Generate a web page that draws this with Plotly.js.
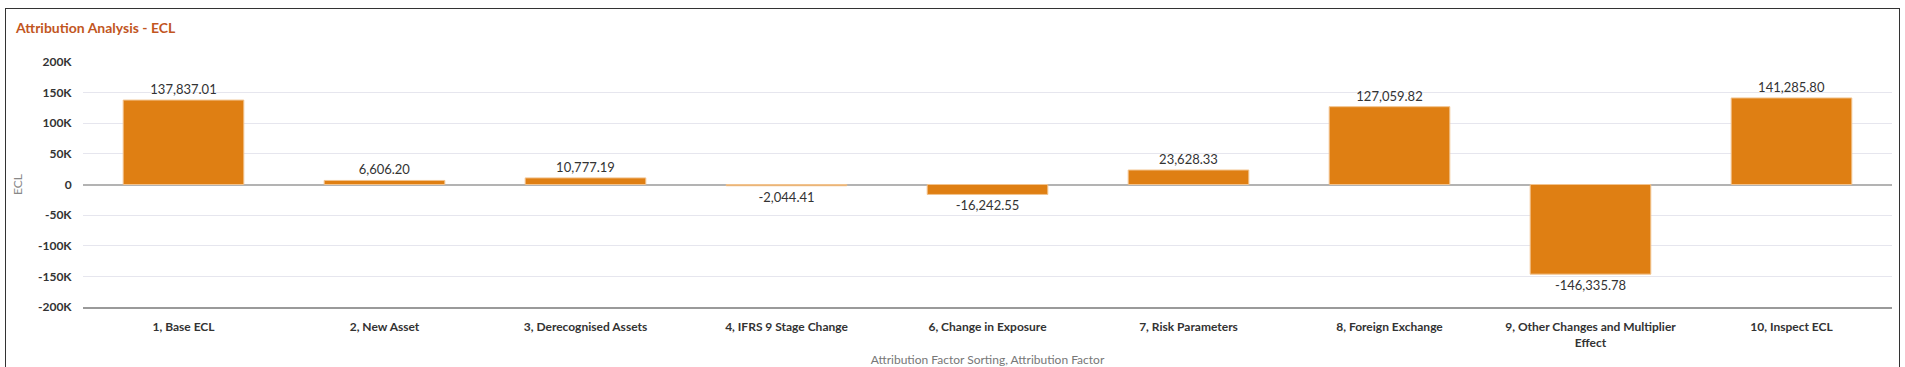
<!DOCTYPE html>
<html>
<head>
<meta charset="utf-8">
<script src="https://cdn.plot.ly/plotly-3.0.1.min.js"></script>
<style>
  html, body { margin: 0; padding: 0; background: #fff; overflow: hidden; }
  #chart { width: 1905px; height: 367px; }
  #frame { position: absolute; left: 5px; top: 8px; width: 1895px; height: 400px;
           border: 1.5px solid #333; pointer-events: none; box-sizing: border-box; }
</style>
</head>
<body>
<div id="chart"></div>
<div id="frame"></div>
<script>
const categories = [
  "1, Base ECL",
  "2, New Asset",
  "3, Derecognised Assets",
  "4, IFRS 9 Stage Change",
  "6, Change in Exposure",
  "7, Risk Parameters",
  "8, Foreign Exchange",
  "9, Other Changes and Multiplier<br>Effect",
  "10, Inspect ECL"
];
const eclValues = [137837.01, 6606.20, 10777.19, -2044.41, -16242.55, 23628.33, 127059.82, -146335.78, 141285.80];
const yTickVals = [200000, 150000, 100000, 50000, 0, -50000, -100000, -150000, -200000];
const yTickText = ["200K", "150K", "100K", "50K", "0", "-50K", "-100K", "-150K", "-200K"];

const labels = eclValues.map(v => v.toLocaleString('en-US', {minimumFractionDigits: 2, maximumFractionDigits: 2}));

const trace = {
  type: 'bar',
  x: categories,
  y: eclValues,
  text: labels,
  textposition: 'outside',
  cliponaxis: false,
  textfont: { family: 'Lato, sans-serif', size: 13, color: '#333' },
  marker: { color: '#DF7F13', line: { color: '#F2C38E', width: 1 } },
  hoverinfo: 'x+y'
};

const layout = {
  width: 1905,
  height: 367,
  margin: { l: 83, r: 13, t: 62, b: 60 },
  paper_bgcolor: '#fff',
  plot_bgcolor: '#fff',
  bargap: 0.4,
  showlegend: false,
  title: {
    text: '<b>Attribution Analysis - ECL</b>',
    font: { family: 'Lato, sans-serif', size: 14, color: '#C2561F' },
    x: 16 / 1905, xanchor: 'left', xref: 'container',
    y: 1 - 28 / 367, yanchor: 'middle', yref: 'container'
  },
  xaxis: {
    type: 'category',
    showgrid: false,
    showline: true,
    linecolor: '#9a9a9a',
    linewidth: 1.5,
    ticks: 'outside',
    ticklen: 8,
    tickcolor: 'rgba(0,0,0,0)',
    tickfont: { family: 'Lato, sans-serif', size: 12, color: '#333', weight: 700 },
    title: {
      text: 'Attribution Factor Sorting, Attribution Factor',
      font: { family: 'Lato, sans-serif', size: 12, color: '#777' },
      standoff: 20
    }
  },
  yaxis: {
    range: [-200000, 200000],
    tickvals: yTickVals,
    ticktext: yTickText,
    showgrid: true,
    gridcolor: '#e6e6ee',
    gridwidth: 1,
    zeroline: true,
    zerolinecolor: '#b3b3b3',
    zerolinewidth: 2,
    showline: false,
    ticks: 'outside',
    ticklen: 8,
    tickcolor: 'rgba(0,0,0,0)',
    tickfont: { family: 'Lato, sans-serif', size: 12, color: '#333', weight: 700 },
    title: {
      text: 'ECL',
      font: { family: 'Lato, sans-serif', size: 12, color: '#888' },
      standoff: 12
    }
  }
};

Plotly.newPlot('chart', [trace], layout, { displayModeBar: false, staticPlot: true });
</script>
</body>
</html>
